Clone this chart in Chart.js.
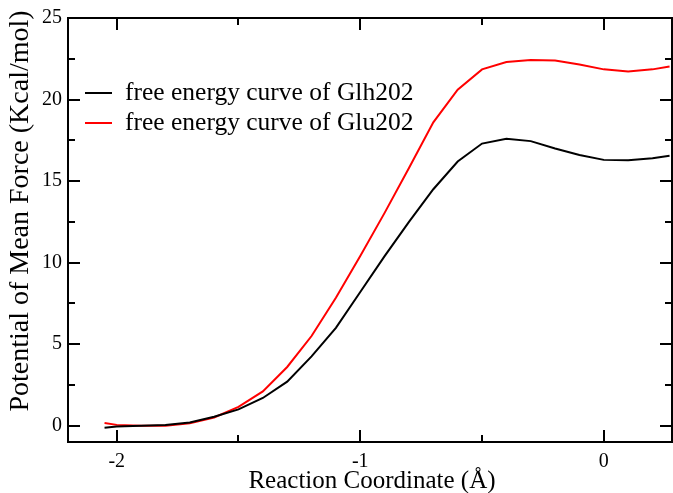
<!DOCTYPE html>
<html>
<head>
<meta charset="utf-8">
<script src="https://cdn.jsdelivr.net/npm/chart.js@4/dist/chart.umd.min.js"></script>
<style>
  html, body { margin: 0; padding: 0; background: #fff; }
  #wrap { width: 673px; height: 493px; }
</style>
</head>
<body>
<div id="wrap"><canvas id="grafico"></canvas></div>
<script>
const coordX = [-2.05, -2.0, -1.9, -1.8, -1.7, -1.6, -1.5, -1.4, -1.3, -1.2, -1.1, -1.0, -0.9, -0.8, -0.7, -0.6, -0.5, -0.4, -0.3, -0.2, -0.1, 0.0, 0.1, 0.2, 0.27];
const glh202 = [-0.12, -0.05, 0.0, 0.05, 0.2, 0.55, 1.0, 1.7, 2.7, 4.25, 6.0, 8.2, 10.4, 12.5, 14.5, 16.2, 17.3, 17.6, 17.45, 17.0, 16.6, 16.3, 16.27, 16.4, 16.55];
const glu202 = [0.16, 0.05, 0.0, 0.0, 0.15, 0.5, 1.15, 2.1, 3.6, 5.5, 7.85, 10.4, 13.05, 15.8, 18.6, 20.6, 21.85, 22.3, 22.42, 22.4, 22.15, 21.85, 21.72, 21.85, 22.02];
const etiquetas = ["free energy curve of Glh202", "free energy curve of Glu202"];
const colores = ["#000000", "#ff0000"];
const xTicks = [-2, -1, 0];
const xMinor = [-1.5, -0.5];
const yTicks = [0, 5, 10, 15, 20, 25];
const yMinor = [2.5, 7.5, 12.5, 17.5, 22.5];

const FUENTE = "'Liberation Serif', 'Times New Roman', serif";

const marcoPlugin = {
  id: "marco",
  afterDraw(chart) {
    const ctx = chart.ctx;
    const a = chart.chartArea;
    const sx = chart.scales.x, sy = chart.scales.y;
    ctx.save();
    ctx.strokeStyle = "#000";
    ctx.lineWidth = 2;
    ctx.strokeRect(a.left, a.top, a.right - a.left, a.bottom - a.top);

    const tick = (len, vals, eje) => {
      vals.forEach(v => {
        ctx.beginPath();
        if (eje === "x") {
          const p = Math.round(sx.getPixelForValue(v));
          ctx.moveTo(p, a.bottom); ctx.lineTo(p, a.bottom - len);
          ctx.moveTo(p, a.top); ctx.lineTo(p, a.top + len);
        } else {
          const p = Math.round(sy.getPixelForValue(v));
          ctx.moveTo(a.left, p); ctx.lineTo(a.left + len, p);
          ctx.moveTo(a.right, p); ctx.lineTo(a.right - len, p);
        }
        ctx.stroke();
      });
    };
    tick(12, xTicks, "x");
    tick(7, xMinor, "x");
    tick(12, yTicks, "y");
    tick(7, yMinor, "y");

    // titulos de ejes
    ctx.fillStyle = "#000";
    ctx.textAlign = "center";
    ctx.textBaseline = "middle";
    ctx.font = "25px " + FUENTE;
    ctx.fillText("Reaction Coordinate (\u00C5)", 372, 481);
    ctx.font = "28px " + FUENTE;
    ctx.translate(21, 211);
    ctx.rotate(-Math.PI / 2);
    ctx.fillText("Potential of Mean Force (Kcal/mol)", 0, 0);
    ctx.setTransform(1, 0, 0, 1, 0, 0);

    // leyenda
    ctx.font = "25.5px " + FUENTE;
    ctx.textAlign = "left";
    etiquetas.forEach((t, i) => {
      const y = 93 + i * 30;
      ctx.strokeStyle = colores[i];
      ctx.beginPath();
      ctx.moveTo(85, y); ctx.lineTo(112, y);
      ctx.stroke();
      ctx.fillStyle = "#000";
      ctx.fillText(t, 125, y);
    });
    ctx.restore();
  }
};

const ctx = document.getElementById("grafico").getContext("2d");
new Chart(ctx, {
  type: "line",
  data: {
    datasets: [
      {
        label: etiquetas[0],
        data: coordX.map((x, i) => ({ x: x, y: glh202[i] })),
        borderColor: colores[0],
        borderWidth: 2,
        pointRadius: 0,
        tension: 0
      },
      {
        label: etiquetas[1],
        data: coordX.map((x, i) => ({ x: x, y: glu202[i] })),
        borderColor: colores[1],
        borderWidth: 2,
        pointRadius: 0,
        tension: 0
      }
    ]
  },
  options: {
    responsive: true,
    maintainAspectRatio: false,
    animation: false,
    layout: { padding: { top: 15, right: 1, left: 0, bottom: 0 } },
    plugins: {
      legend: { display: false },
      tooltip: { enabled: false }
    },
    scales: {
      x: {
        type: "linear",
        min: -2.2,
        max: 0.28,
        afterBuildTicks: s => { s.ticks = xTicks.map(v => ({ value: v })); },
        afterFit: s => { s.height = 51; },
        grid: { display: false, drawTicks: false },
        border: { display: false },
        ticks: {
          padding: 8,
          color: "#000",
          font: { family: FUENTE, size: 20 },
          maxRotation: 0
        }
      },
      y: {
        min: -1,
        max: 25,
        afterBuildTicks: s => { s.ticks = yTicks.map(v => ({ value: v })); },
        afterFit: s => { s.width = 68; },
        grid: { display: false, drawTicks: false },
        border: { display: false },
        ticks: {
          padding: 6,
          color: "#000",
          font: { family: FUENTE, size: 20 }
        }
      }
    }
  },
  plugins: [marcoPlugin]
});
</script>
</body>
</html>
